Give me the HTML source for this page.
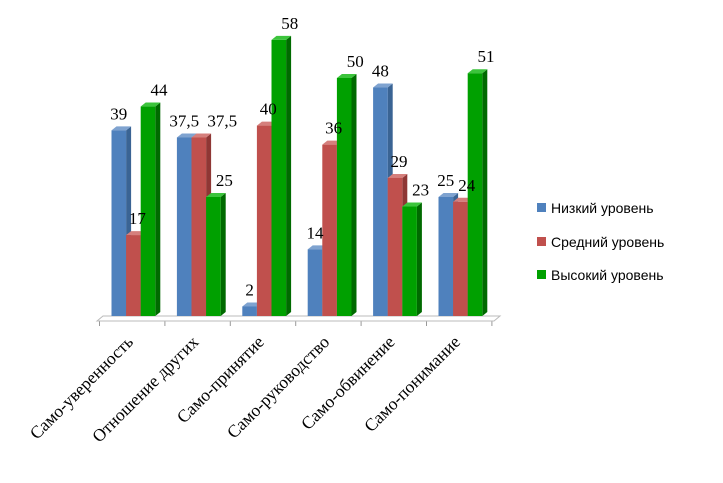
<!DOCTYPE html>
<html><head><meta charset="utf-8"><style>
body{margin:0;background:#fff;}
svg{display:block;}
</style></head><body>
<svg id="chart" width="723" height="483" xmlns="http://www.w3.org/2000/svg">
<g id="floor">
<polygon points="97,321 103,316 500,316 494,321" fill="#fff" stroke="#bbb" stroke-width="1"/>
</g>
<g id="ticks"></g>
<g id="bars"></g>
<g id="labels"></g>
<g id="cats"></g>
<g id="legend"></g>
</svg>
<script>
const categories=["Само-уверенность","Отношение других","Само-принятие","Само-руководство","Само-обвинение","Само-понимание"];
const lowValues=[39,37.5,2,14,48,25];
const midValues=[17,37.5,40,36,29,24];
const highValues=[44,25,58,50,23,51];
const labelsLow=["39","37,5","2","14","48","25"];
const labelsMid=["17","37,5","40","36","29","24"];
const labelsHigh=["44","25","58","50","23","51"];
const seriesNames=["Низкий уровень","Средний уровень","Высокий уровень"];

const NS="http://www.w3.org/2000/svg";
const x0=99.5, gw=65.4, base=316, scale=4.76, bw=14.6;
function xScale(gi,si){return x0+gi*gw+12+si*bw;}
function yScale(v){return base-v*scale;}
const fills=[["#4f81bd","#3a6494","#7fa3d0"],["#c0504d","#8f3735","#d57f7c"],["#00a000","#006a00","#3cc43c"]];
const series=[lowValues,midValues,highValues];
const lbls=[labelsLow,labelsMid,labelsHigh];
const lblShift=[0,4,11];
const bars=document.getElementById('bars'),labels=document.getElementById('labels'),cats=document.getElementById('cats'),ticks=document.getElementById('ticks'),legend=document.getElementById('legend');
function mk(tag,attrs,parent){const e=document.createElementNS(NS,tag);for(const k in attrs)e.setAttribute(k,attrs[k]);parent.appendChild(e);return e;}
for(let t=0;t<=categories.length;t++){
  const tx=x0+t*gw;
  const l=mk('line',{x1:tx,y1:321,x2:tx,y2:326,stroke:'#999'},ticks);
  
  
}
mk('line',{x1:97,y1:321,x2:494,y2:321,stroke:'#bbb'},ticks);
for(let g=0;g<categories.length;g++){
  let prev=null;
  for(let s=0;s<3;s++){
    const v=series[s][g];const x=xScale(g,s);const y=yScale(v);const d=5,dy=4;
    const grp=mk('g',{},bars);
    
    
    mk('polygon',{points:`${x+bw},${y} ${x+bw+d},${y-dy} ${x+bw+d},${base-dy} ${x+bw},${base}`,fill:fills[s][1]},grp);
    mk('polygon',{points:`${x},${y} ${x+d},${y-dy} ${x+bw+d},${y-dy} ${x+bw},${y}`,fill:fills[s][2]},grp);
    mk('rect',{x:x,y:y,width:bw,height:base-y,fill:fills[s][0]},grp);
    const txt=lbls[s][g];
    const w=txt.length*8.5;
    let cx=x+bw/2+lblShift[s];
    const ly=y-11;
    if(prev && Math.abs(prev.y-ly)<16 && cx-w/2<prev.r+4){cx=prev.r+4+w/2;}
    const t=mk('text',{x:cx,y:ly,'text-anchor':'middle','font-family':'Liberation Serif, serif','font-size':17,fill:'#000'},labels);
    t.textContent=txt;
    
    
    prev={r:cx+w/2,y:ly};
  }
  const cx=x0+g*gw+gw/2+2;
  const c=mk('text',{x:cx,y:343,'text-anchor':'end','font-family':'Liberation Serif, serif','font-size':17.5,fill:'#000',transform:`rotate(-45 ${cx} 343)`},cats);
  c.textContent=categories[g];
  
  
}
const ly=[208,242,275];
for(let i=0;i<3;i++){
  const g=mk('g',{},legend);
  
  
  mk('rect',{x:537,y:ly[i]-5,width:9,height:9,fill:fills[i][0]},g);
  const t=mk('text',{x:551,y:ly[i]+5,'font-family':'Liberation Sans, sans-serif','font-size':14,fill:'#000'},g);
  t.textContent=seriesNames[i];
}
</script>
</body></html>
